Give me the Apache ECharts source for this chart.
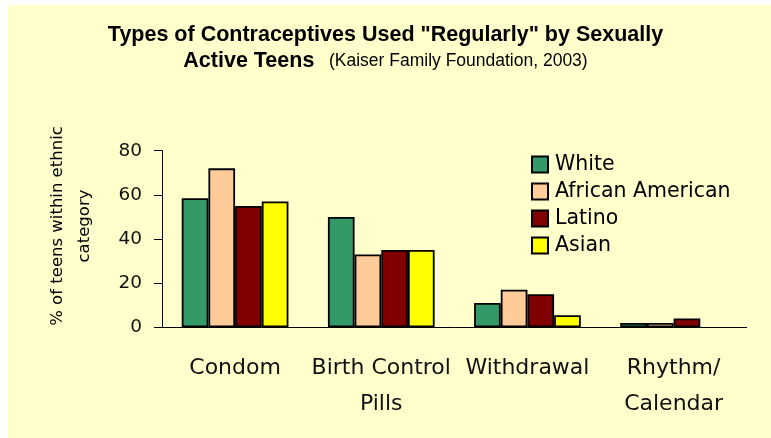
<!DOCTYPE html>
<html>
<head>
<meta charset="utf-8">
<script src="https://cdn.jsdelivr.net/npm/echarts@6/dist/echarts.min.js"></script>
<style>
html,body{margin:0;padding:0;background:#fff;}
#chart{width:771px;height:438px;}
</style>
</head>
<body>
<div id="chart"></div>
<script>
var categories = ['Condom', 'Birth Control\nPills', 'Withdrawal', 'Rhythm/\nCalendar'];
var seriesNames = ['White', 'African American', 'Latino', 'Asian'];
var white = [58.5, 50, 11, 2];
var africanAmerican = [72, 33, 17, 2];
var latino = [55, 35, 15, 4];
var asian = [57, 35, 5.5, null];
var yTicks = [0, 20, 40, 60, 80];
var titleLine1 = 'Types of Contraceptives Used "Regularly" by Sexually';
var titleLine2 = 'Active Teens';
var subtitle = '(Kaiser Family Foundation, 2003)';
var yName = '% of teens within ethnic\ncategory';

var colors = ['#339966', '#FFCC99', '#800000', '#FFFF00'];
var values = [white, africanAmerican, latino, asian];
var font = 'DejaVu Sans';

var chart = echarts.init(document.getElementById('chart'), null, {renderer: 'canvas'});
chart.setOption({
  animation: false,
  backgroundColor: '#ffffff',
  graphic: [
    {type: 'rect', z: -10, shape: {x: 8, y: 5, width: 763, height: 433}, style: {fill: '#FFFFCC'}},
    {type: 'text', x: 71.5, y: 226, rotation: Math.PI / 2,
     style: {text: yName, fill: '#000', font: '16.5px "' + font + '"', align: 'center', verticalAlign: 'middle', lineHeight: 27}}
  ],
  title: [
    {
      left: 'center',
      top: 24,
      padding: 0,
      text: titleLine1,
      textStyle: {fontFamily: 'Liberation Sans', fontWeight: 'bold', fontSize: 21.5, color: '#000'}
    },
    {
      left: 'center',
      top: 50,
      padding: 0,
      text: '{a|' + titleLine2 + '}{s|   ' + subtitle + '}',
      textStyle: {
        rich: {
          a: {fontFamily: 'Liberation Sans', fontWeight: 'bold', fontSize: 21.5, color: '#000'},
          s: {fontFamily: 'Liberation Sans', fontWeight: 'normal', fontSize: 17.5, color: '#000'}
        }
      }
    }
  ],
  legend: {
    orient: 'vertical',
    left: 531,
    top: 154,
    padding: 0,
    itemWidth: 16,
    itemHeight: 16,
    itemGap: 6,
    icon: 'rect',
    data: seriesNames,
    textStyle: {fontFamily: font, fontSize: 20.5, color: '#000', padding: [0, 0, 0, 2]}
  },
  grid: {left: 162, right: 24.3, top: 150.7, bottom: 110.7, containLabel: false},
  xAxis: {
    type: 'category',
    data: categories,
    axisLine: {lineStyle: {color: '#000', width: 1}},
    axisTick: {length: 7, lineStyle: {color: '#000'}},
    axisLabel: {fontFamily: font, fontSize: 22, color: '#111', lineHeight: 36, margin: 23, interval: 0}
  },
  yAxis: {
    type: 'value',
    min: yTicks[0],
    max: yTicks[yTicks.length - 1],
    interval: yTicks[1] - yTicks[0],
    splitLine: {show: false},
    axisLine: {show: true, lineStyle: {color: '#000', width: 1}},
    axisTick: {show: true, length: 8, lineStyle: {color: '#000'}},
    axisLabel: {fontFamily: font, fontSize: 18.5, color: '#111', margin: 20}
  },
  series: seriesNames.map(function (n, i) {
    return {
      name: n,
      type: 'bar',
      data: values[i],
      barGap: '0%',
      barCategoryGap: '27%',
      itemStyle: {color: colors[i], borderColor: '#000', borderWidth: 1.8}
    };
  })
});
</script>
</body>
</html>
